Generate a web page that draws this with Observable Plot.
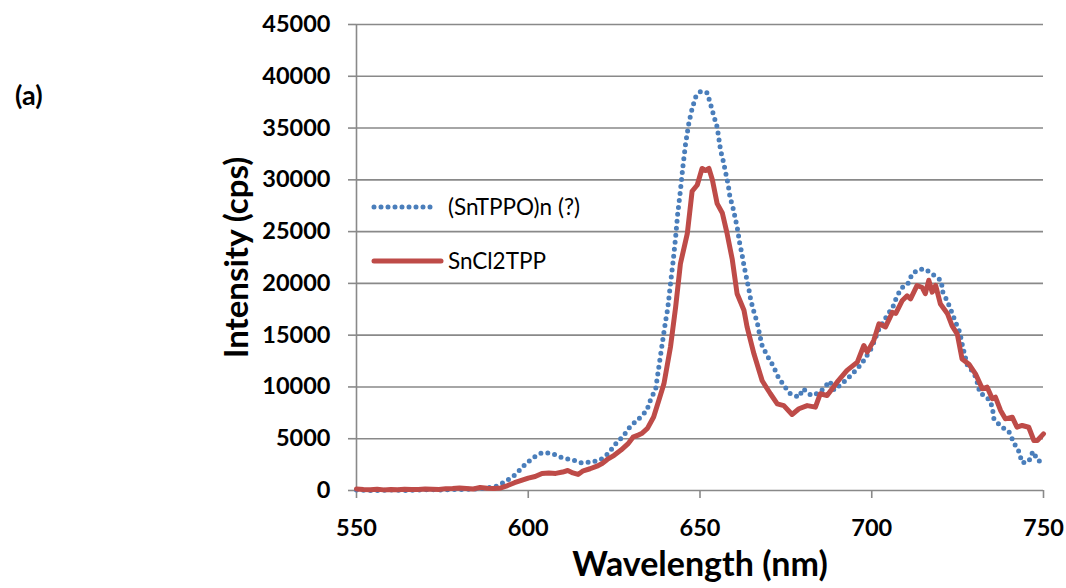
<!DOCTYPE html>
<html>
<head>
<meta charset="utf-8">
<script src="https://cdn.jsdelivr.net/npm/d3@7"></script>
<script src="https://cdn.jsdelivr.net/npm/@observablehq/plot@0.6"></script>
<style>
  html, body { margin: 0; padding: 0; background: #fff; }
  #wrap { position: relative; width: 1066px; height: 588px; font-family: Lato, "Open Sans", sans-serif; }
  #panel { position: absolute; left: 15px; top: 81px; font-size: 27px; line-height: 1; font-weight: bold; }
  #legend { position: absolute; left: 0; top: 0; pointer-events: none; }
</style>
</head>
<body>
<div id="wrap">
  <div id="chart"></div>
  <div id="panel">(a)</div>
  <svg id="legend" width="1066" height="588"></svg>
</div>
<script>
// Emission spectra: wavelength (nm) and intensity (cps)
const tpproWavelength = [550, 555, 560, 565, 570, 575, 580, 585, 588, 590.5, 593.4, 596.3, 598.6, 601.2, 603.9, 606.8, 610, 612.9, 615.2, 618.1, 621, 623.3, 625.4, 627.7, 629.8, 632, 634.5, 635.6, 637.1, 638, 639, 640, 640.6, 641.4, 642.2, 642.9, 643.5, 644.3, 645, 645.8, 646.8, 647.7, 648.7, 650.2, 652.1, 653.1, 654, 655, 655.5, 656, 656.8, 657.5, 658.2, 658.7, 659.6, 660.3, 661, 661.5, 662.2, 662.8, 663.5, 664.2, 664.8, 665.7, 666.7, 667.4, 668.1, 669.7, 671.3, 672.7, 674.4, 676.3, 678.8, 680, 682.4, 685, 687.8, 689, 692.4, 695.8, 697.7, 700, 702.1, 704.5, 706.2, 707.4, 709.2, 710.5, 711.8, 713.7, 715.5, 717.3, 719.5, 720.2, 720.7, 722, 723.2, 724.4, 725.6, 726.3, 727.1, 728, 729.7, 730.7, 731.5, 733.6, 735.1, 735.5, 737.5, 739.9, 741.4, 742.8, 743.8, 745.7, 746.9, 748.5, 750];
const tpproIntensity = [50, 0, 50, 0, 80, 50, 100, 150, 250, 390, 870, 1545, 2350, 3120, 3640, 3600, 3150, 2960, 2670, 2730, 2960, 3570, 4480, 5280, 6230, 6860, 7720, 8760, 9820, 11900, 14170, 16400, 17550, 19960, 22200, 24460, 26700, 28970, 31220, 33480, 35570, 36860, 37980, 38560, 38400, 37280, 36200, 35080, 33960, 32830, 31770, 30640, 29550, 28390, 27300, 26240, 25110, 23980, 22860, 21730, 20600, 19480, 18350, 17250, 16160, 15000, 13970, 12940, 12040, 11010, 10140, 9340, 9010, 9820, 9170, 9490, 10560, 9700, 10620, 11750, 12550, 13800, 15600, 16900, 17770, 18830, 19730, 19960, 20930, 21340, 21400, 20990, 20440, 20280, 19150, 18280, 17290, 16250, 15290, 14170, 13040, 11910, 11430, 10460, 9400, 9010, 8110, 6980, 6210, 5700, 4600, 3770, 2670, 2800, 3770, 2830, 2900];

const sncl2Wavelength = [550, 552, 554, 556, 558, 560, 562, 564, 566, 568, 570, 572, 574, 576, 578, 580, 582, 584, 586, 588, 590, 592, 594, 596, 598, 600, 602, 604, 606, 608, 610, 611.5, 613, 614.5, 616, 618, 620, 621.5, 623, 625, 627, 629, 630.5, 632, 633, 634.7, 636.5, 638, 639.5, 641.4, 642.9, 644.3, 646.3, 647.7, 649.2, 650.6, 651.6, 652.6, 653.6, 655, 656.5, 657.9, 659.4, 660.8, 662.8, 663.7, 665.7, 668.1, 670.5, 672.5, 674.4, 676.8, 678.8, 681.2, 683.6, 685, 687, 689.9, 692.8, 695.8, 697.7, 698.7, 700.6, 702.1, 704, 706, 707, 708.9, 710.3, 711.3, 713.2, 714.7, 715.6, 716.6, 717.6, 718.6, 720, 722, 723.4, 724.9, 726.3, 728.3, 730.2, 732.2, 733.6, 735.1, 736, 737.5, 738.9, 740.9, 742.3, 743.8, 745.7, 747.2, 748.2, 750];
const sncl2Intensity = [150, 100, 80, 120, 60, 100, 80, 130, 100, 90, 150, 120, 100, 180, 200, 250, 200, 150, 300, 220, 200, 250, 480, 750, 970, 1200, 1350, 1650, 1700, 1650, 1780, 1930, 1700, 1550, 1900, 2100, 2350, 2600, 3000, 3400, 3900, 4500, 5150, 5350, 5500, 6000, 7100, 8700, 10300, 13850, 17700, 21900, 24800, 28900, 29500, 31100, 30900, 31100, 30000, 27700, 26800, 24800, 22300, 19000, 17400, 15800, 13200, 10600, 9340, 8370, 8200, 7340, 7890, 8200, 8050, 9340, 9170, 10460, 11600, 12400, 14000, 13360, 14500, 16100, 15800, 17200, 17100, 18350, 18800, 18500, 19800, 19600, 19000, 20300, 19150, 19800, 18000, 17100, 15900, 15100, 12700, 12200, 11270, 9820, 9980, 8860, 9010, 7730, 6920, 7080, 6110, 6280, 6110, 4830, 4830, 5470];

const xTicks = [550, 600, 650, 700, 750];
const yTicks = [0, 5000, 10000, 15000, 20000, 25000, 30000, 35000, 40000, 45000];
const seriesNames = ["(SnTPPO)n (?)", "SnCl2TPP"];
const seriesColors = ["#4A7EBB", "#BE4B48"];
const xLabel = "Wavelength (nm)";
const yLabel = "Intensity (cps)";

const tppro = tpproWavelength.map((w, i) => ({w, v: tpproIntensity[i]}));
const sncl2 = sncl2Wavelength.map((w, i) => ({w, v: sncl2Intensity[i]}));

const gray = "#898989";
const dotted = {dash: "0 7", width: 5};
const solidWidth = 5;

const chart = Plot.plot({
  width: 1066,
  height: 588,
  marginLeft: 356,
  marginRight: 23,
  marginTop: 24,
  marginBottom: 98,
  style: {fontFamily: "Lato, 'Open Sans', sans-serif", color: "#000", background: "#fff"},
  x: {domain: [550, 750]},
  y: {domain: [0, 45000]},
  marks: [
    Plot.gridY(yTicks.filter(d => d > 0), {stroke: gray, strokeOpacity: 1, strokeWidth: 1.6}),
    Plot.ruleY([0], {stroke: gray, strokeWidth: 1.6}),
    Plot.ruleX([550], {stroke: gray, strokeWidth: 1.6}),
    Plot.axisY({ticks: yTicks, tickFormat: d3.format("d"), tickSize: 8, tickPadding: 18, stroke: gray, strokeWidth: 1.6, fontSize: 23.5, fontWeight: "bold", label: null}),
    Plot.axisX({ticks: xTicks, tickFormat: d3.format("d"), tickSize: 8, tickPadding: 21, stroke: gray, strokeWidth: 1.6, fontSize: 23.5, fontWeight: "bold", label: null}),
    Plot.line(tppro, {x: "w", y: "v", stroke: seriesColors[0], strokeWidth: dotted.width, strokeDasharray: dotted.dash, strokeLinecap: "round", strokeLinejoin: "round"}),
    Plot.line(sncl2, {x: "w", y: "v", stroke: seriesColors[1], strokeWidth: solidWidth, strokeLinejoin: "round"}),
    Plot.text([yLabel], {frameAnchor: "left", textAnchor: "middle", lineAnchor: "middle", dx: -119, rotate: -90, fontSize: 33, fontWeight: "bold", fill: "#000"}),
    Plot.text([xLabel], {frameAnchor: "bottom", textAnchor: "middle", lineAnchor: "middle", dy: 75, fontSize: 34, fontWeight: "bold", fill: "#000"})
  ]
});
document.getElementById("chart").appendChild(chart);

// Legend drawn inside the plot area, upper left
const legend = d3.select("#legend");
const rows = [
  {name: seriesNames[0], color: seriesColors[0], dash: dotted.dash, width: dotted.width, y: 207},
  {name: seriesNames[1], color: seriesColors[1], dash: null, width: solidWidth, y: 261}
];
for (const r of rows) {
  legend.append("line")
    .attr("x1", 374).attr("x2", r.dash ? 436 : 441)
    .attr("y1", r.y).attr("y2", r.y)
    .attr("stroke", r.color).attr("stroke-width", r.width)
    .attr("stroke-linecap", "round")
    .attr("stroke-dasharray", r.dash);
  legend.append("text")
    .attr("x", 448).attr("y", r.y)
    .attr("dy", "0.35em")
    .attr("font-family", "Lato, 'Open Sans', sans-serif")
    .attr("font-size", 22.5)
    .attr("fill", "#000")
    .text(r.name);
}
</script>
</body>
</html>
